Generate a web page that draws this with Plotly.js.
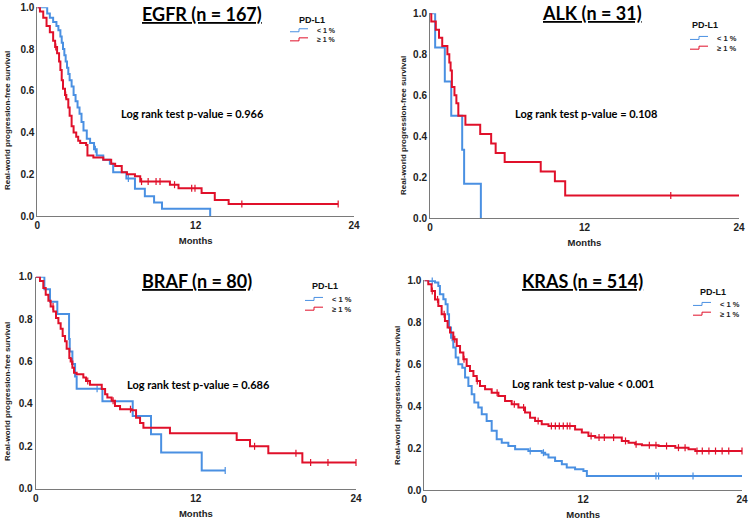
<!DOCTYPE html>
<html>
<head>
<meta charset="utf-8">
<script src="https://cdn.plot.ly/plotly-3.0.1.min.js"></script>
<style>html,body{margin:0;padding:0;background:#fff;}#chart{width:750px;height:522px;}</style>
</head>
<body>
<div id="chart"></div>
<script>
// ---------------- DATA (months, survival) ----------------
const panelTitles = ["EGFR (n = 167)", "ALK (n = 31)", "BRAF (n = 80)", "KRAS (n = 514)"];
const pValueTexts = ["Log rank test p-value = 0.966", "Log rank test p-value = 0.108",
                     "Log rank test p-value = 0.686", "Log rank test p-value < 0.001"];
const groupNames = ["< 1 %", "\u2265 1 %"];
const legendTitle = "PD-L1";
const xTitle = "Months";
const yTitle = "Real-world progression-free survival";
const xTicks = [0, 12, 24];
const yTicks = [0, 0.2, 0.4, 0.6, 0.8, 1.0];

// EGFR
const egfrLowT = [0, 0.75, 0.95, 1.2, 1.45, 1.6, 1.75, 1.85, 1.95, 2.05, 2.15, 2.25, 2.35, 2.45, 2.6, 2.75, 2.9, 3.05, 3.2, 3.35, 3.5, 3.75, 4.0, 4.3, 4.5, 5.0, 5.5, 5.75, 6.75, 7.4, 8.15, 8.85, 9.45, 13.1];
const egfrLowS = [1.0, 0.97, 0.95, 0.93, 0.91, 0.89, 0.86, 0.83, 0.80, 0.77, 0.74, 0.71, 0.68, 0.65, 0.62, 0.58, 0.55, 0.52, 0.49, 0.45, 0.41, 0.37, 0.35, 0.32, 0.29, 0.27, 0.25, 0.21, 0.18, 0.13, 0.095, 0.065, 0.035, 0.0];
const egfrLowCens = [4.4, 6.9];
const egfrHighT = [0, 0.2, 0.45, 0.7, 0.95, 1.2, 1.35, 1.5, 1.65, 1.75, 1.85, 1.95, 2.1, 2.2, 2.35, 2.45, 2.6, 2.75, 2.95, 3.1, 3.25, 3.7, 3.8, 4.25, 5.0, 5.6, 5.9, 6.4, 6.8, 7.4, 7.8, 10.05, 10.7, 12.45, 13.45, 14.5, 22.8];
const egfrHighS = [1.0, 0.98, 0.95, 0.91, 0.88, 0.84, 0.81, 0.78, 0.74, 0.70, 0.65, 0.61, 0.58, 0.56, 0.52, 0.48, 0.43, 0.40, 0.38, 0.36, 0.35, 0.34, 0.29, 0.28, 0.27, 0.25, 0.24, 0.21, 0.20, 0.19, 0.165, 0.15, 0.133, 0.11, 0.077, 0.058, 0.058];
const egfrHighCens = [1.4, 2.15, 7.9, 8.4, 9.0, 9.3, 10.4, 11.7, 11.95, 15.5, 22.8];

// ALK
const alkLowT = [0, 0.4, 1.15, 1.65, 2.5, 2.65, 3.95];
const alkLowS = [1.0, 0.833, 0.667, 0.5, 0.333, 0.167, 0.0];
const alkLowCens = [];
const alkHighT = [0, 0.1, 0.45, 0.7, 0.95, 1.35, 1.5, 1.6, 1.7, 1.9, 2.05, 2.2, 2.75, 3.9, 4.75, 5.1, 5.8, 8.6, 9.7, 10.5, 24];
const alkHighS = [1.0, 0.96, 0.92, 0.88, 0.84, 0.80, 0.76, 0.72, 0.64, 0.60, 0.56, 0.50, 0.455, 0.41, 0.364, 0.318, 0.273, 0.227, 0.18, 0.11, 0.11];
const alkHighCens = [18.7];

// BRAF
const brafLowT = [0, 0.65, 1.07, 1.62, 2.5, 2.55, 2.75, 2.95, 3.07, 5.0, 7.27, 8.64, 9.4, 12.44, 14.2];
const brafLowS = [1.0, 0.941, 0.882, 0.824, 0.706, 0.647, 0.588, 0.529, 0.471, 0.412, 0.343, 0.257, 0.171, 0.086, 0.086];
const brafLowCens = [4.6, 14.2];
const brafHighT = [0, 0.32, 0.57, 0.75, 0.95, 1.12, 1.32, 1.52, 1.7, 1.87, 2.02, 2.2, 2.32, 2.52, 2.62, 2.75, 2.87, 3.07, 3.57, 3.77, 4.07, 4.95, 5.2, 5.37, 5.69, 5.94, 6.32, 7.19, 7.52, 7.82, 8.07, 10.06, 15.06, 16.06, 17.43, 19.98, 24];
const brafHighS = [1.0, 0.98, 0.947, 0.915, 0.887, 0.86, 0.836, 0.805, 0.78, 0.755, 0.72, 0.695, 0.66, 0.616, 0.60, 0.57, 0.547, 0.54, 0.525, 0.508, 0.49, 0.47, 0.445, 0.43, 0.415, 0.39, 0.375, 0.37, 0.335, 0.31, 0.287, 0.262, 0.23, 0.20, 0.167, 0.123, 0.123];
const brafHighCens = [1.3, 2.7, 3.9, 5.8, 7.1, 16.4, 19.5, 20.6, 21.9, 24];

// KRAS
const krasLowT = [0, 0.43, 0.81, 1.06, 1.18, 1.44, 1.61, 1.76, 1.87, 2.02, 2.19, 2.37, 2.57, 2.87, 3.08, 3.33, 3.58, 3.78, 4.08, 4.34, 4.71, 5.09, 5.47, 5.85, 6.35, 6.86, 7.86, 8.87, 9.13, 9.38, 9.88, 10.39, 10.76, 11.39, 12.02, 12.28, 24];
const krasLowS = [1.0, 0.997, 0.989, 0.973, 0.933, 0.91, 0.886, 0.838, 0.775, 0.727, 0.68, 0.632, 0.6, 0.584, 0.537, 0.497, 0.457, 0.418, 0.394, 0.362, 0.33, 0.283, 0.243, 0.227, 0.211, 0.195, 0.187, 0.179, 0.171, 0.156, 0.14, 0.124, 0.108, 0.1, 0.092, 0.068, 0.068];
const krasLowCens = [0.6, 2.1, 8.0, 9.0, 17.5, 17.7, 20.3];
const krasHighT = [0, 0.3, 0.55, 0.81, 1.06, 1.31, 1.56, 1.76, 1.94, 2.19, 2.45, 2.70, 2.95, 3.2, 3.45, 3.71, 3.96, 4.21, 4.59, 5.09, 5.6, 6.1, 6.6, 7.11, 7.61, 7.99, 8.37, 8.87, 9.38, 11.39, 11.9, 12.4, 12.91, 14.92, 15.43, 15.93, 16.44, 17.7, 18.96, 19.96, 20.47, 24];
const krasHighS = [1.0, 0.981, 0.949, 0.909, 0.878, 0.838, 0.806, 0.775, 0.751, 0.719, 0.687, 0.656, 0.624, 0.592, 0.568, 0.544, 0.521, 0.497, 0.481, 0.465, 0.449, 0.425, 0.41, 0.394, 0.37, 0.346, 0.33, 0.314, 0.306, 0.29, 0.275, 0.259, 0.251, 0.235, 0.227, 0.219, 0.214, 0.211, 0.203, 0.195, 0.187, 0.187];
const krasHighCens = [0.6, 1.0, 1.5, 2.3, 3.0, 4.0, 5.5, 6.8, 7.5, 8.6, 9.6, 9.9, 10.2, 10.5, 10.8, 11.0, 12.6, 13.2, 13.6, 14.3, 15.2, 16.0, 17.0, 17.5, 18.3, 19.2, 19.7, 20.6, 21.0, 21.5, 22.0, 22.5, 23.0, 24];

// ---------------- STYLE / LAYOUT ----------------
const W = 750, H = 522;
const BLUE = "#4a90e2", RED = "#e0102a";
const px = x => x / W, py = y => 1 - y / H;

// plot area boxes in pixels; leg = [titleX, titleY, iconX, rowsCenterY, fontSize]
const boxes = [
  {l: 37.3, r: 354, t: 7.3, b: 216, title: [202, 14], pv: [192, 113], yt: [8, 121], leg: [312, 20, 290, 35, 7]},
  {l: 430, r: 739, t: 13.3, b: 218, title: [592, 13], pv: [586, 113], yt: [403, 126], leg: [705, 25, 690, 43, 7.5]},
  {l: 35.7, r: 356, t: 276.7, b: 488.7, title: [197, 281], pv: [198, 384], yt: [7, 392], leg: [325, 286, 305, 304, 7.5]},
  {l: 424.3, r: 742, t: 280.3, b: 490.3, title: [582, 281], pv: [583, 383], yt: [397, 396], leg: [713, 292, 693, 309, 7.5]}
];

const series = [
  [[egfrLowT, egfrLowS, egfrLowCens], [egfrHighT, egfrHighS, egfrHighCens]],
  [[alkLowT, alkLowS, alkLowCens], [alkHighT, alkHighS, alkHighCens]],
  [[brafLowT, brafLowS, brafLowCens], [brafHighT, brafHighS, brafHighCens]],
  [[krasLowT, krasLowS, krasLowCens], [krasHighT, krasHighS, krasHighCens]]
];
const colors = [BLUE, RED];

function stepAt(T, S, t) {
  let v = S[0];
  for (let i = 0; i < T.length; i++) { if (T[i] <= t) v = S[i]; else break; }
  return v;
}

const traces = [];
const layout = {
  width: W, height: H,
  margin: {l: 0, r: 0, t: 0, b: 0},
  paper_bgcolor: "#fff", plot_bgcolor: "#fff",
  showlegend: false,
  font: {family: "Liberation Sans, Arial, sans-serif", color: "#111"},
  annotations: [], shapes: []
};

const SANS = "Liberation Sans, Arial, sans-serif";
const tickFont = {family: SANS, size: 10, color: "#222", weight: "bold"};

boxes.forEach((b, i) => {
  const n = i === 0 ? "" : String(i + 1);
  const xa = "x" + n, ya = "y" + n;
  layout["xaxis" + n] = {
    domain: [px(b.l), px(b.r)], anchor: ya, range: [0, 24], tickvals: xTicks,
    showline: true, linecolor: "#7a7a7a", linewidth: 1, ticks: "", showgrid: false, zeroline: false,
    tickfont: tickFont, fixedrange: true,
    title: {text: xTitle, font: {family: SANS, size: 9.5, color: "#222", weight: "bold"}, standoff: 7}
  };
  layout["yaxis" + n] = {
    domain: [py(b.b), py(b.t)], anchor: xa, range: [0, 1], tickvals: yTicks, tickformat: ".1f",
    showline: true, linecolor: "#7a7a7a", linewidth: 1, ticks: "", showgrid: false, zeroline: false,
    tickfont: tickFont, fixedrange: true
  };
  // y axis title (placed as in the reference, slightly below the axis centre)
  layout.annotations.push({
    xref: "paper", yref: "paper", x: px(b.yt[0]), y: py(b.yt[1]), xanchor: "center", yanchor: "middle",
    textangle: -90, text: "<b>" + yTitle + "</b>", showarrow: false,
    font: {family: SANS, size: 8, color: "#222"}
  });
  series[i].forEach((s, g) => {
    const [T, S, C] = s;
    traces.push({
      type: "scatter", mode: "lines", x: T, y: S, xaxis: xa, yaxis: ya,
      line: {shape: "hv", color: colors[g], width: 2}, cliponaxis: false,
      name: groupNames[g], hoverinfo: "skip"
    });
    if (C.length) {
      traces.push({
        type: "scatter", mode: "markers", x: C, y: C.map(t => stepAt(T, S, t)), xaxis: xa, yaxis: ya,
        marker: {symbol: "line-ns-open", size: 5, color: colors[g], line: {color: colors[g], width: 1.2}},
        cliponaxis: false, hoverinfo: "skip", name: groupNames[g]
      });
    }
  });
  // panel title
  layout.annotations.push({
    xref: "paper", yref: "paper", x: px(b.title[0]), y: py(b.title[1]), xanchor: "center", yanchor: "middle",
    text: "<b><u>" + panelTitles[i] + "</u></b>", showarrow: false,
    font: {family: "Lato, Open Sans, sans-serif", size: 18, color: "#000"}
  });
  // p-value
  layout.annotations.push({
    xref: "paper", yref: "paper", x: px(b.pv[0]), y: py(b.pv[1]), xanchor: "center", yanchor: "middle",
    text: "<b>" + pValueTexts[i] + "</b>", showarrow: false,
    font: {family: "Lato, Open Sans, sans-serif", size: 11, color: "#000"}
  });
  // legend
  const [lx, ly, ix, rc, fs] = b.leg;
  layout.annotations.push({
    xref: "paper", yref: "paper", x: px(lx), y: py(ly), xanchor: "center", yanchor: "middle",
    text: "<b>" + legendTitle + "</b>", showarrow: false,
    font: {family: SANS, size: 9, color: "#111"}
  });
  const gap = 1.3 * fs;
  [rc - gap / 2, rc + gap / 2].forEach((ry, g) => {
    const x1 = ix, x2 = ix + 9, x3 = ix + 18, yl = ry + 1.3, yu = ry - 1.7;
    layout.shapes.push({
      type: "path", xref: "paper", yref: "paper",
      path: `M ${px(x1)} ${py(yl)} L ${px(x2)} ${py(yl)} L ${px(x2)} ${py(yu)} L ${px(x3)} ${py(yu)}`,
      line: {color: colors[g], width: 1}
    });
  });
  layout.annotations.push({
    xref: "paper", yref: "paper", x: px(ix + 26), y: py(rc), xanchor: "left", yanchor: "middle",
    align: "left", borderpad: 0,
    text: "<b>" + groupNames[0] + "<br>" + groupNames[1] + "</b>", showarrow: false,
    font: {family: SANS, size: fs, color: "#222"}
  });
});

Plotly.newPlot("chart", traces, layout, {staticPlot: true, displayModeBar: false});
</script>
</body>
</html>
